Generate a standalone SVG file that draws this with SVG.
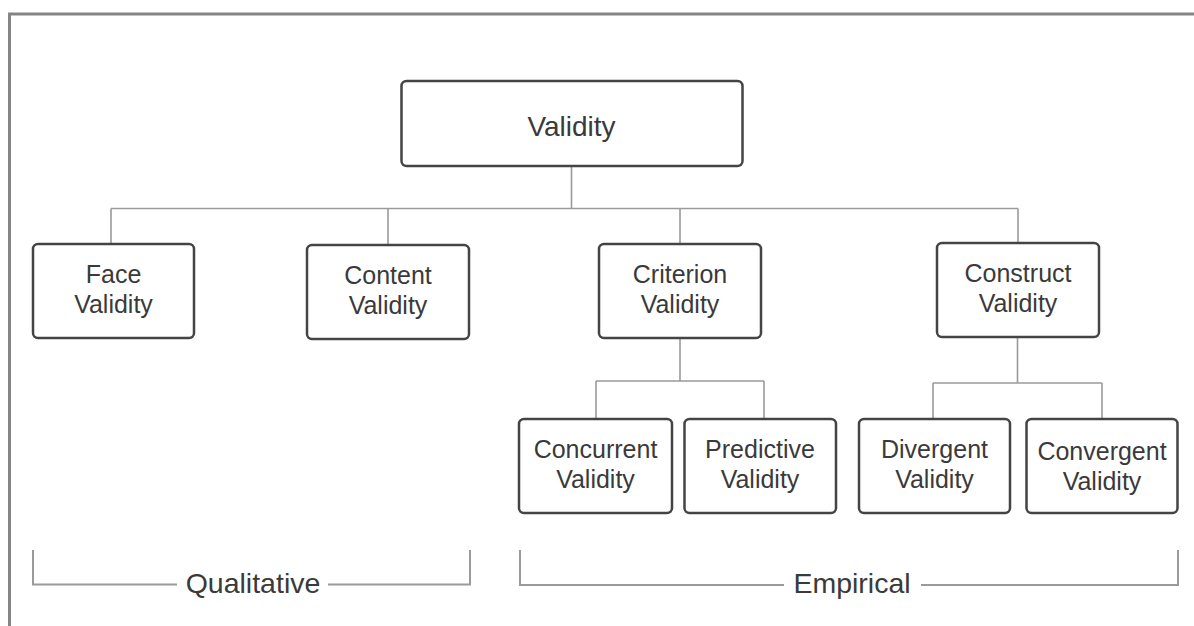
<svg xmlns="http://www.w3.org/2000/svg" width="1194" height="626" viewBox="0 0 1194 626">
<style>
.box{fill:#ffffff;stroke:#444444;stroke-width:2.5}
.lbl{font-family:"Liberation Sans",Arial,sans-serif;font-size:25px;fill:#3a3a3a;text-anchor:middle}
.root{font-size:28px}
.con{fill:none;stroke:#9a9a9a;stroke-width:1.6}
.br{fill:none;stroke:#9a9a9a;stroke-width:2}
.cap{font-family:"Liberation Sans",Arial,sans-serif;font-size:28.5px;fill:#3a3a3a;text-anchor:middle}
</style>
<rect width="1194" height="626" fill="#ffffff"/>
<path d="M9.5 626 V14 H1194" fill="none" stroke="#858585" stroke-width="3"/>
<g id="connectors">
<path class="con" d="M571.5 166 V208.5 M111 208.5 H1018 M111 208.5 V244 M388 208.5 V245 M680 208.5 V244 M1018 208.5 V243"/>
<path class="con" d="M680 338 V381 M596 381 H764 M596 381 V419 M764 381 V419"/>
<path class="con" d="M1017.5 337 V383 M933 383 H1102 M933 383 V419 M1102 383 V419"/>
</g>
<g id="validity"><rect class="box" x="401.5" y="81" width="341" height="85" rx="5"/><text class="lbl root" x="571.5" y="136">Validity</text></g>
<g id="face"><rect class="box" x="33" y="244" width="161" height="94" rx="5"/><text class="lbl" x="113.5" y="283">Face</text><text class="lbl" x="113.5" y="313">Validity</text></g>
<g id="content"><rect class="box" x="307" y="245" width="162" height="94" rx="5"/><text class="lbl" x="388" y="284">Content</text><text class="lbl" x="388" y="314">Validity</text></g>
<g id="criterion"><rect class="box" x="599" y="244" width="162" height="94" rx="5"/><text class="lbl" x="680" y="283">Criterion</text><text class="lbl" x="680" y="313">Validity</text></g>
<g id="construct"><rect class="box" x="937" y="243" width="162" height="94" rx="5"/><text class="lbl" x="1018" y="282">Construct</text><text class="lbl" x="1018" y="312">Validity</text></g>
<g id="concurrent"><rect class="box" x="519" y="419" width="153" height="94" rx="5"/><text class="lbl" x="595.5" y="458">Concurrent</text><text class="lbl" x="595.5" y="488">Validity</text></g>
<g id="predictive"><rect class="box" x="684.5" y="419" width="151.5" height="94" rx="5"/><text class="lbl" x="760" y="458">Predictive</text><text class="lbl" x="760" y="488">Validity</text></g>
<g id="divergent"><rect class="box" x="859" y="419" width="151" height="94" rx="5"/><text class="lbl" x="934.5" y="458">Divergent</text><text class="lbl" x="934.5" y="488">Validity</text></g>
<g id="convergent"><rect class="box" x="1026.5" y="419" width="151" height="94" rx="5"/><text class="lbl" x="1102" y="460">Convergent</text><text class="lbl" x="1102" y="490">Validity</text></g>
<g id="qualitative">
<path class="br" d="M33 550 V584.5 H177 M328 584.5 H470 V550"/>
<text class="cap" x="253" y="593">Qualitative</text>
</g>
<g id="empirical">
<path class="br" d="M520 550 V585 H784 M921 585 H1178 V550"/>
<text class="cap" x="852" y="593">Empirical</text>
</g>
</svg>
